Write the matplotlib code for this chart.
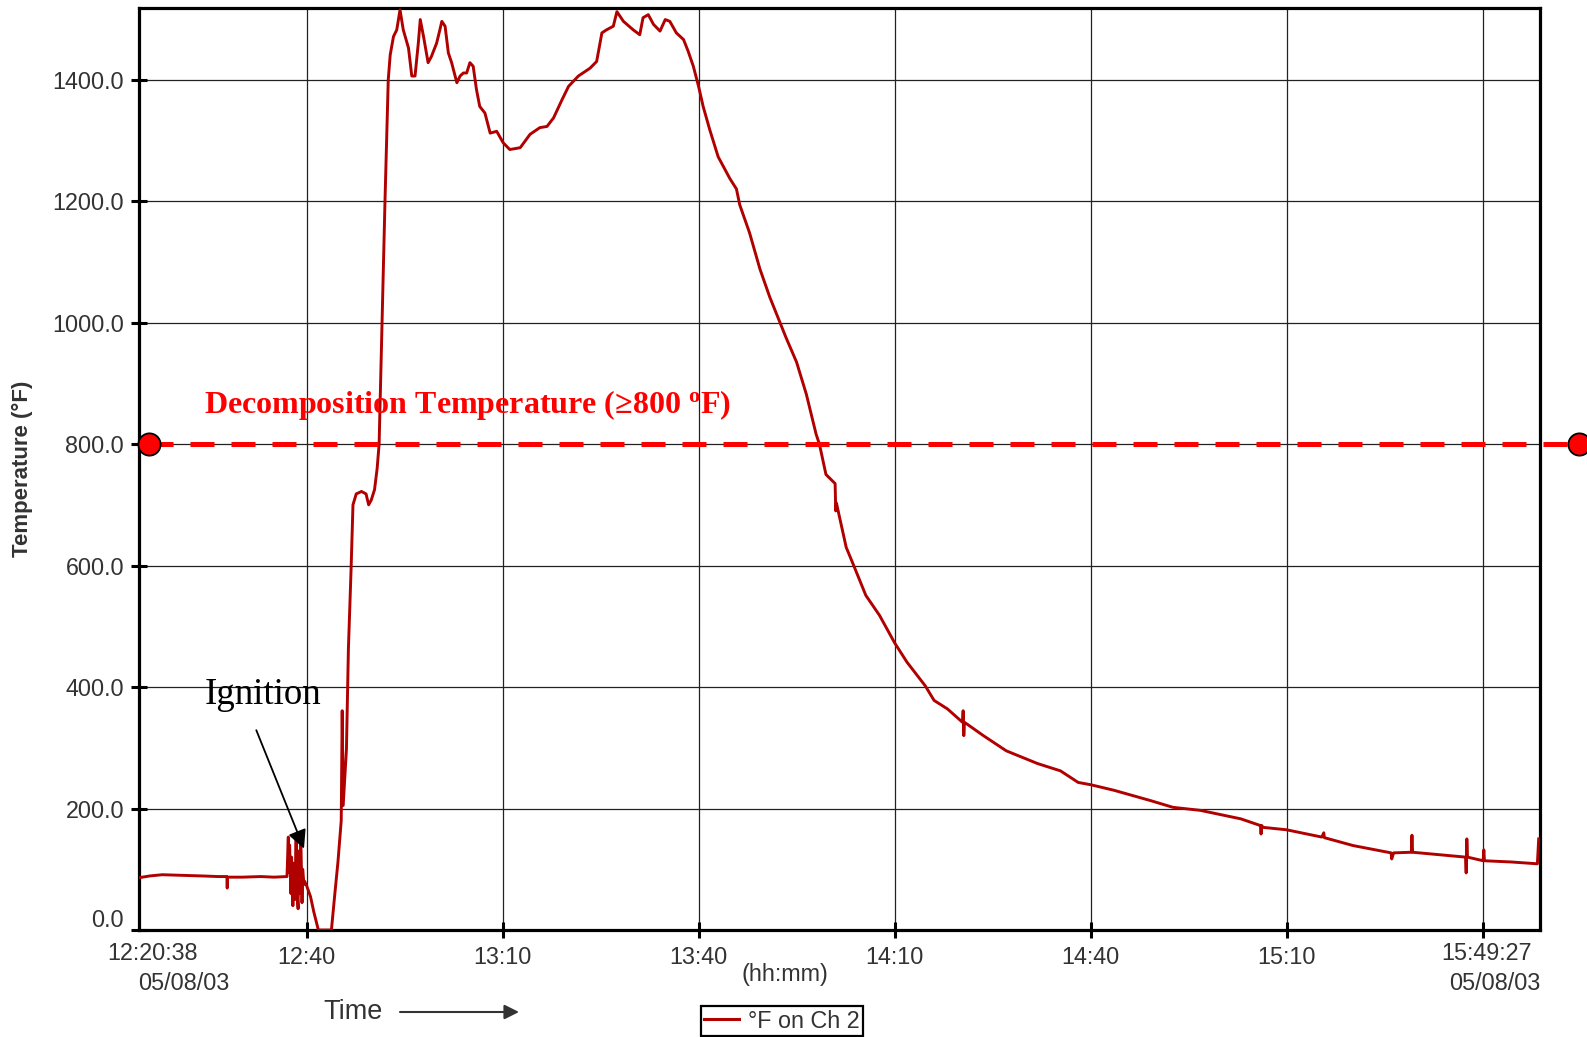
import matplotlib
matplotlib.use("Agg")
import matplotlib.pyplot as plt
import numpy as np
from matplotlib.transforms import ScaledTranslation
from matplotlib.lines import Line2D

plt.rcParams['font.family'] = ['Liberation Sans', 'DejaVu Sans']
plt.rcParams['mathtext.fontset'] = 'custom'
plt.rcParams['mathtext.rm'] = 'Liberation Serif:bold'
plt.rcParams['mathtext.it'] = 'Liberation Serif:bold'

# minutes after 12:00, deg F
pre_t = [14.3, 16.0, 17.9, 21.0, 24.0, 26.5, 27.8, 27.85, 27.9, 30.2, 33.0, 35.0, 37.0]
pre_f = [86, 89, 91, 90, 89, 88, 88, 69, 87, 87, 88, 87, 88]

ign_t = [37.2, 37.25, 37.4, 37.6, 37.7, 37.9, 38.0, 38.2, 38.4, 38.5, 38.7,
         38.8, 39.0, 39.1, 39.3, 39.4, 39.6, 39.7, 40.0, 40.6, 41.1, 41.8]
ign_f = [153, 95, 140, 60, 120, 40, 110, 50, 158, 70, 35,
         130, 60, 160, 45, 100, 75, 80, 73, 55, 30, 0]

rise_t = [43.8, 44.3, 44.8, 45.3, 45.45, 45.6, 46.1, 46.4, 46.8, 47.1,
          47.6, 48.4, 49.1, 49.5, 49.9, 50.4, 50.8, 51.1, 51.5, 52.0]
rise_f = [0, 57, 112, 180, 361, 205, 298, 463, 591, 700,
          718, 722, 718, 700, 708, 725, 760, 800, 979, 1200]

peak1_t = [52.3, 52.5, 52.8, 53.3, 53.8, 54.3, 54.8, 55.6, 56.1, 56.6,
           57.1, 57.4, 57.9, 58.6, 59.1, 59.9, 60.4, 60.7, 61.2, 61.7,
           62.2, 63.0, 63.5, 64.0, 64.5, 65.0, 65.5, 66.0, 66.5, 67.3,
           68.1, 69.1, 70.1, 71.1, 72.7]
peak1_f = [1323, 1400, 1441, 1471, 1482, 1515, 1482, 1452, 1406, 1406,
           1460, 1499, 1471, 1428, 1438, 1460, 1482, 1496, 1488, 1444,
           1428, 1395, 1406, 1411, 1411, 1428, 1422, 1384, 1356, 1345,
           1312, 1315, 1296, 1285, 1288]

peak2_t = [74.2, 75.7, 76.8, 77.8, 79.1, 80.1, 81.6, 83.4, 84.4, 85.2,
           85.9, 86.95, 87.5, 88.5, 90.0, 91.0, 91.5, 92.3, 93.1, 94.1,
           94.9, 95.6, 96.6, 97.7, 98.4, 99.2, 100.0, 100.7, 101.7, 103.0]
peak2_f = [1310, 1321, 1323, 1337, 1367, 1389, 1406, 1419, 1430, 1477,
           1482, 1488, 1512, 1496, 1482, 1474, 1502, 1507, 1491, 1480,
           1499, 1496, 1477, 1466, 1447, 1422, 1389, 1356, 1318, 1273]

fall_t = [104.8, 105.8, 106.3, 107.8, 109.4, 110.9, 112.4, 113.4, 115.0, 116.5,
          118.0, 118.5, 119.5, 120.9, 121.0, 121.1, 122.6, 123.6, 125.6, 127.7,
          130.0, 131.9, 134.7, 136.05, 138.1]
fall_f = [1237, 1220, 1194, 1148, 1088, 1042, 1002, 975, 935, 882,
          816, 800, 750, 735, 690, 703, 630, 604, 551, 518,
          473, 441, 402, 378, 364]

tail_t = [140.4, 140.5, 140.6, 140.7, 143.6, 147.1, 151.9, 155.4, 158.1, 160.1,
          163.6, 169.2, 172.6, 176.8, 183.0, 186.0, 186.1, 186.2, 186.4, 190.0,
          195.4, 195.7, 195.8, 200.2, 206.0, 206.1, 206.4, 209.1, 209.2, 209.3,
          213.3, 217.4, 217.5, 217.6, 217.7, 220.1, 220.2, 220.3, 224.4, 228.4,
          228.6]
tail_f = [342, 361, 320, 342, 320, 295, 274, 262, 243, 239,
          230, 213, 202, 197, 183, 172, 158, 172, 169, 165,
          153, 160, 152, 139, 127, 117, 127, 128, 156, 128,
          124, 120, 94, 150, 120, 114, 132, 114, 112, 109,
          150]

decomp_temp = 800
y_ticks = [0, 200, 400, 600, 800, 1000, 1200, 1400]
x_ticks = [40, 70, 100, 130, 160, 190, 220]
x_labels = ['12:40', '13:10', '13:40', '14:10', '14:40', '15:10', '']
t_start, t_end = 14.3, 228.8
start_label = ('12:20:38', '05/08/03')
end_label = ('15:49:27', '05/08/03')

t = np.concatenate([pre_t, ign_t, rise_t, peak1_t, peak2_t, fall_t, tail_t])
f = np.concatenate([pre_f, ign_f, rise_f, peak1_f, peak2_f, fall_f, tail_f])

W, H = 1587, 1037
fig = plt.figure(figsize=(W / 100, H / 100), dpi=100)
ax = fig.add_axes([138.7 / W, 1 - 930 / H, (1540 - 138.7) / W, (930 - 8) / H])

line_col = '#b00000'
txt_col = '#333333'
fs = 16.8

ax.plot(t, f, color=line_col, lw=2.1, zorder=3, label='°F on Ch 2')
ax.set_xlim(t_start, t_end)
ax.set_ylim(0, 1518)

ax.set_yticks(y_ticks)
ax.set_yticklabels([f'{v:.1f}' for v in y_ticks])
ax.set_xticks(x_ticks)
ax.set_xticklabels(x_labels)
ax.grid(True, color='#222222', lw=0.9)
ax.tick_params(direction='inout', length=11, width=2.2, colors='black',
               labelcolor=txt_col, labelsize=fs)
ax.tick_params(axis='y', pad=5)
ax.tick_params(axis='x', pad=6)
for s in ax.spines.values():
    s.set_linewidth(2.3)

# the 0.0 label sits a bit higher in the original
lab0 = ax.get_yticklabels()[0]
lab0.set_transform(lab0.get_transform() + ScaledTranslation(0, 0.12, fig.dpi_scale_trans))

# first / last time stamps
ax.text(0.0095, -0.025, start_label[0], transform=ax.transAxes, ha='center', va='center',
        fontsize=fs, color=txt_col)
ax.text(0.032, -0.058, start_label[1], transform=ax.transAxes, ha='center', va='center',
        fontsize=fs, color=txt_col)
ax.text(0.962, -0.025, end_label[0], transform=ax.transAxes, ha='center', va='center',
        fontsize=fs, color=txt_col)
ax.text(0.9675, -0.058, end_label[1], transform=ax.transAxes, ha='center', va='center',
        fontsize=fs, color=txt_col)

# decomposition threshold
ax.plot([15.9, 234.8], [decomp_temp, decomp_temp], color='#ff0000', lw=3.6,
        dashes=(4.8, 3.4), clip_on=False, zorder=4)
ax.plot([15.9, 234.8], [decomp_temp, decomp_temp], ls='none', marker='o', ms=16,
        mfc='#ff0000', mec='black', mew=1.3, clip_on=False, zorder=5)
ax.text(24.36, 852, r'Decomposition Temperature (≥800 $^{\mathrm{o}}$F)', color='#ff0000',
        fontsize=23, fontweight='bold', family=['Liberation Serif', 'DejaVu Serif'],
        va='baseline', ha='left', zorder=6)

# ignition note
ax.text(24.36, 372, 'Ignition', fontsize=26.5, family=['Liberation Serif', 'DejaVu Serif'],
        va='baseline', ha='left', zorder=6)
ax.annotate('', xy=(39.6, 134), xytext=(32.3, 329),
            arrowprops=dict(arrowstyle='-|>', color='black', lw=1.3, mutation_scale=28,
                            shrinkA=0, shrinkB=0), zorder=6)

# labels around the axes
fig.text(22 / W, 1 - 469 / H, 'Temperature (°F)', rotation=90, ha='center', va='center',
         fontsize=16, fontweight='bold', color=txt_col)
fig.text(785 / W, 1 - 974 / H, '(hh:mm)', ha='center', va='center', fontsize=fs,
         color=txt_col)
fig.text(353 / W, 1 - 1012 / H, 'Time', ha='center', va='center', fontsize=19.5,
         color=txt_col)
ax.annotate('', xy=(519 / W, 1 - 1012 / H), xytext=(400 / W, 1 - 1012 / H),
            xycoords='figure fraction', textcoords='figure fraction',
            arrowprops=dict(arrowstyle='-|>', color=txt_col, lw=1.5, mutation_scale=22,
                            shrinkA=0, shrinkB=0))

leg = ax.legend(handles=[Line2D([], [], color=line_col, lw=2.2)], labels=['°F on Ch 2'],
                loc='upper center', bbox_to_anchor=(782 / W, 1 - 1006 / H),
                bbox_transform=fig.transFigure, fancybox=False, framealpha=1,
                edgecolor='black', fontsize=fs, handlelength=1.5, handletextpad=0.4,
                borderpad=0.15, borderaxespad=0)
leg.get_frame().set_linewidth(1.6)
for txt in leg.get_texts():
    txt.set_color(txt_col)

fig.savefig('out.png', dpi=100)
